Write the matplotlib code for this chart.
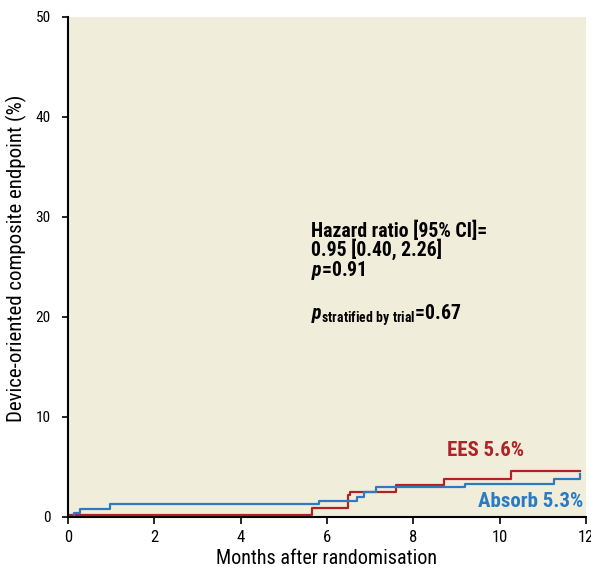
import matplotlib
matplotlib.use("Agg")
import matplotlib.pyplot as plt
from matplotlib import font_manager as fm

# ---- data ----
ees_t = [0, 5.65, 6.48, 6.54, 7.60, 8.70, 10.26, 11.86]
ees_v = [0.25, 0.92, 2.16, 2.46, 3.16, 3.83, 4.56, 4.56]
absorb_t = [0, 0.13, 0.27, 0.98, 5.82, 6.70, 6.86, 7.14, 9.19, 11.25, 11.87]
absorb_v = [0, 0.42, 0.85, 1.32, 1.58, 1.99, 2.46, 2.99, 3.33, 3.83, 4.29]
xticks = [0, 2, 4, 6, 8, 10, 12]
yticks = [0, 10, 20, 30, 40, 50]
labels = ["EES 5.6%", "Absorb 5.3%"]
stats_lines = ["Hazard ratio [95% CI]=", "0.95 [0.40, 2.26]"]
p_text = r"$\mathbfit{p}$=0.91"
p_strat_text = r"$\mathbfit{p}_{\mathbf{stratified\ by\ trial}}$=0.67"

names = {f.name for f in fm.fontManager.ttflist}
prefs = ["Roboto Condensed", "Archivo Narrow", "Asap Condensed", "PT Sans Narrow",
         "Fira Sans Condensed", "Barlow Condensed", "Liberation Sans Narrow", "Roboto"]
present = [p for p in prefs if p in names]
FONT = present[0] if present else "DejaVu Sans"
plt.rcParams['font.family'] = [FONT, 'DejaVu Sans']
plt.rcParams['mathtext.fontset'] = 'custom'
plt.rcParams['mathtext.rm'] = FONT
plt.rcParams['mathtext.bf'] = FONT + ':bold'
plt.rcParams['mathtext.it'] = FONT + ':italic'
try:
    plt.rcParams['mathtext.bfit'] = FONT + ':italic:bold'
except KeyError:
    p_text = p_text.replace(r"\mathbfit", r"\mathit")
    p_strat_text = p_strat_text.replace(r"\mathbfit", r"\mathit")

RED = "#AF2328"
BLUE = "#2B7BC3"

fig = plt.figure(figsize=(5.91, 5.70), dpi=100)
ax = fig.add_axes([68/591, 1-517/570, (586-68)/591, (517-17)/570])
ax.set_facecolor("#F1EDDB")
ax.step(ees_t, ees_v, where="post", color=RED, lw=1.6)
ax.step(absorb_t, absorb_v, where="post", color=BLUE, lw=1.6)
ax.set_xlim(0, 12)
ax.set_ylim(0, 50)
ax.set_xticks(xticks)
ax.set_yticks(yticks)
ax.tick_params(axis="x", labelsize=12, length=4.8, width=1.2, pad=4.2, color="black")
ax.tick_params(axis="y", labelsize=11, length=4.5, width=1.2, pad=8, color="black")
for s in ("top", "right"):
    ax.spines[s].set_visible(False)
for s in ("left", "bottom"):
    ax.spines[s].set_linewidth(1.5)
ax.set_xlabel("Months after randomisation", fontsize=14.5)
ax.set_ylabel("Device-oriented composite endpoint (%)", fontsize=15)
ax.xaxis.set_label_coords(0.499, -0.064)
ax.yaxis.set_label_coords(-0.079, 0.518)

ax.text(10.57, 6.67, labels[0], color=RED, fontsize=15, fontweight="bold", ha="right", va="center")
ax.text(11.93, 1.55, labels[1], color=BLUE, fontsize=15, fontweight="bold", ha="right", va="center")

tx = 5.62
fs = 14.2
ax.text(tx, 28.05, stats_lines[0], fontsize=fs, fontweight="bold", va="baseline", ha="left")
ax.text(tx, 26.08, stats_lines[1], fontsize=fs, fontweight="bold", va="baseline", ha="left")
ax.text(tx, 24.05, p_text, fontsize=fs, fontweight="bold", va="baseline", ha="left")
ax.text(tx, 19.71, p_strat_text, fontsize=fs, fontweight="bold", va="baseline", ha="left")

fig.savefig("out.png", dpi=100)
